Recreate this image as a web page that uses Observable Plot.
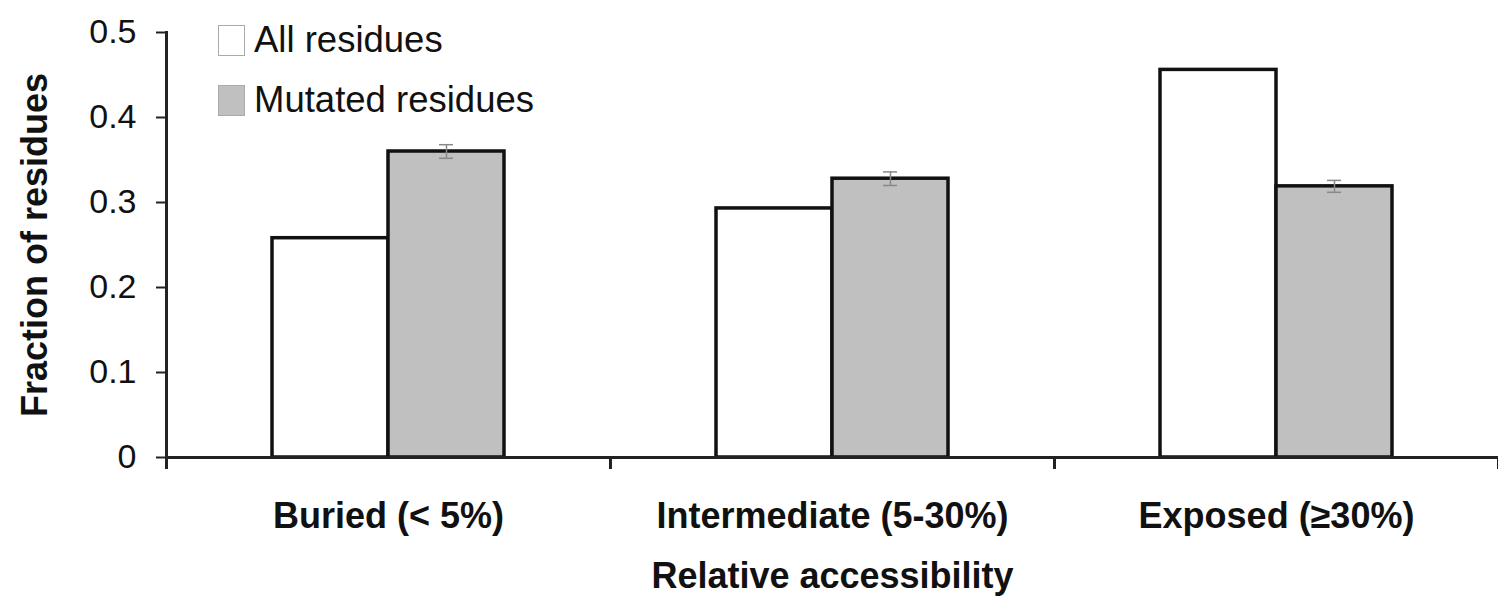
<!DOCTYPE html>
<html><head><meta charset="utf-8">
<script src="https://cdn.jsdelivr.net/npm/d3@7"></script>
<script src="https://cdn.jsdelivr.net/npm/@observablehq/plot@0.6"></script>
<style>
body{margin:0;background:#fff;}
#wrap{position:relative;width:1498px;height:597px;font-family:"Liberation Sans",Arial,sans-serif;}
#legend{position:absolute;left:218px;top:10px;}
.item{display:flex;align-items:center;height:60px;font-size:36.5px;color:#111;}
.sw{width:27px;height:31px;box-sizing:border-box;border:1.5px solid #aaa;margin-right:9px;}
g[aria-label="fx-axis tick label"], g[aria-label="fx-axis label"], g[aria-label="y-axis label"]{font-weight:bold;font-size:36px;}
</style></head><body><div id="wrap"><div id="chart"></div><div id="legend"></div></div>
<script>
const categories = ["Buried (< 5%)", "Intermediate (5-30%)", "Exposed (≥30%)"];
const series = ["All residues", "Mutated residues"];
const allValues = [0.258, 0.293, 0.456];
const mutatedValues = [0.360, 0.328, 0.319];
const mutatedErrors = [0.008, 0.008, 0.007];
const yTicks = [0, 0.1, 0.2, 0.3, 0.4, 0.5];
const fills = ["#ffffff", "#c0c0c0"];

const rows = categories.flatMap((c, i) => [
  {category: c, series: series[0], value: allValues[i]},
  {category: c, series: series[1], value: mutatedValues[i]}
]);
const errRows = categories.map((c, i) => ({
  category: c, series: series[1],
  lo: mutatedValues[i] - mutatedErrors[i], hi: mutatedValues[i] + mutatedErrors[i]
}));

const W = 1498, H = 597, mL = 165, mR = 0, mT = 32, mB = 140;
const plotH = H - mT - mB;
const axisStroke = "#222";

const chart = Plot.plot({
  width: W, height: H, marginLeft: mL, marginRight: mR, marginTop: mT, marginBottom: mB,
  style: {fontFamily: "Liberation Sans, Arial, sans-serif", fontSize: "34px", color: "#111", background: "transparent", overflow: "visible"},
  fx: {domain: categories, padding: 0, label: null},
  x: {domain: series, paddingInner: 0, paddingOuter: 0.9, axis: null},
  y: {domain: [0, 0.5], axis: null},
  color: {domain: series, range: fills},
  marks: [
    Plot.barY(rows, {fx: "category", x: "series", y: "value", fill: "series", stroke: "#111", strokeWidth: 3.5}),
    Plot.ruleX(errRows, {fx: "category", x: "series", y1: "lo", y2: "hi", stroke: "#888", strokeWidth: 1.5}),
    Plot.tickY(errRows, {fx: "category", x: "series", y: "lo", stroke: "#888", strokeWidth: 1.5, insetLeft: 51, insetRight: 51}),
    Plot.tickY(errRows, {fx: "category", x: "series", y: "hi", stroke: "#888", strokeWidth: 1.5, insetLeft: 51, insetRight: 51}),
    Plot.ruleY([0], {stroke: axisStroke, strokeWidth: 3}),
    Plot.frame({anchor: "left", fx: () => categories[0], stroke: axisStroke, strokeWidth: 3}),
    Plot.frame({anchor: "left", stroke: axisStroke, strokeWidth: 3, insetTop: plotH, insetBottom: -10}),
    Plot.frame({anchor: "right", stroke: axisStroke, strokeWidth: 3, insetTop: plotH, insetBottom: -10}),
    Plot.axisY({anchor: "left", ticks: yTicks, tickSize: 10, tickPadding: 20,
      tickFormat: d => d === 0 ? "0" : d.toFixed(1),
      stroke: axisStroke, strokeWidth: 2,
      label: "Fraction of residues", labelAnchor: "center", labelOffset: 145, labelArrow: false}),
    Plot.axisFx({anchor: "bottom", tickSize: 0, tickPadding: 45,
      label: "Relative accessibility", labelAnchor: "center", labelOffset: 130, labelArrow: false})
  ]
});
document.getElementById("chart").appendChild(chart);

const legend = document.getElementById("legend");
series.forEach((s, i) => {
  const item = document.createElement("div");
  item.className = "item";
  const sw = document.createElement("span");
  sw.className = "sw";
  sw.style.background = fills[i];
  const label = document.createElement("span");
  label.textContent = s;
  item.appendChild(sw);
  item.appendChild(label);
  legend.appendChild(item);
});
</script>
</body></html>
